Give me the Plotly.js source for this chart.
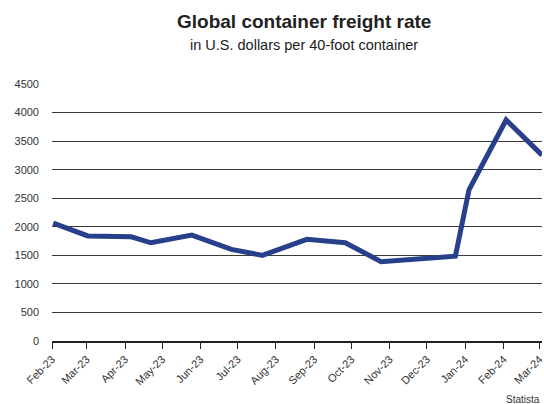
<!DOCTYPE html>
<html>
<head>
<meta charset="utf-8">
<script src="https://cdn.plot.ly/plotly-3.0.1.min.js"></script>
<style>html,body{margin:0;padding:0;background:#fff;}#chart{width:544px;height:404px;}</style>
</head>
<body>
<div id="chart"></div>
<script>
const dates = ["2023-02-02","2023-03-02","2023-04-06","2023-04-22","2023-05-25","2023-06-26","2023-07-21","2023-08-26","2023-09-26","2023-10-25","2023-12-24","2024-01-04","2024-02-03","2024-03-03"];
const rates = [2065,1840,1825,1720,1855,1605,1500,1780,1720,1390,1485,2645,3870,3255];
const tickDates = ["2023-02-01","2023-03-01","2023-04-01","2023-05-01","2023-06-01","2023-07-01","2023-08-01","2023-09-01","2023-10-01","2023-11-01","2023-12-01","2024-01-01","2024-02-01","2024-03-01"];
const tickLabels = ["Feb-23","Mar-23","Apr-23","May-23","Jun-23","Jul-23","Aug-23","Sep-23","Oct-23","Nov-23","Dec-23","Jan-24","Feb-24","Mar-24"];
const yTicks = [0,500,1000,1500,2000,2500,3000,3500,4000,4500];
const titleText = 'Global container freight rate';
const subtitleText = 'in U.S. dollars per 40-foot container';

const trace = {
  x: dates, y: rates, type: 'scatter', mode: 'lines',
  line: {color: '#283f8c', width: 5}, hoverinfo: 'skip', cliponaxis: false
};
const layout = {
  width: 544, height: 404,
  margin: {l: 52, r: 2, t: 84, b: 63},
  paper_bgcolor: '#fff', plot_bgcolor: '#fff',
  font: {family: 'Liberation Sans, Arial, sans-serif', color: '#333'},
  xaxis: {
    type: 'date', range: ['2023-02-01', '2024-03-03'],
    tickmode: 'array', tickvals: tickDates, ticktext: tickLabels,
    tickangle: -45, tickfont: {size: 11, color: '#333'}, ticklabeloverflow: 'allow',
    ticks: 'outside', ticklen: 6, tickcolor: '#222', tickwidth: 1,
    showline: true, linecolor: '#222', linewidth: 1.5,
    showgrid: false, zeroline: false, fixedrange: true
  },
  yaxis: {
    range: [0, 4500], tickmode: 'array', tickvals: yTicks,
    tickfont: {size: 11, color: '#333'}, ticks: '', ticklabelstandoff: 12,
    showgrid: true, gridcolor: '#3a3a3a', gridwidth: 1,
    zeroline: false, showline: false, fixedrange: true
  },
  annotations: [
    {text: '<b>' + titleText + '</b>', xref: 'paper', yref: 'paper', x: 0.515, y: 1 + (84 - 22) / 257,
     xanchor: 'center', yanchor: 'middle', showarrow: false, font: {size: 19, color: '#222'}},
    {text: subtitleText, xref: 'paper', yref: 'paper', x: 0.515, y: 1 + (84 - 45) / 257,
     xanchor: 'center', yanchor: 'middle', showarrow: false, font: {size: 14.5, color: '#222'}},
    {text: 'Statista', xref: 'paper', yref: 'paper', x: 1, y: -0.2,
     xanchor: 'right', yanchor: 'top', showarrow: false, font: {size: 10, color: '#333'}}
  ],
  showlegend: false
};
Plotly.newPlot('chart', [trace], layout, {displayModeBar: false, staticPlot: true});
</script>
</body>
</html>
